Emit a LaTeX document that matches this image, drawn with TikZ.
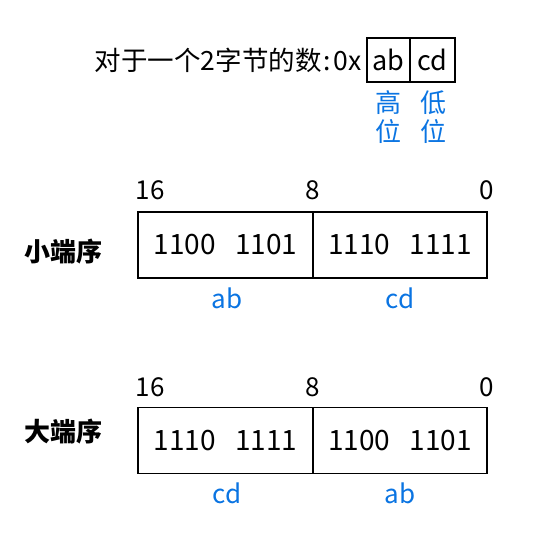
\documentclass[tikz,border=0pt]{standalone}
\usepackage{fontspec}
\setmainfont{Noto Sans CJK SC}
\definecolor{lblue}{RGB}{10,116,226}
\begin{document}
\begin{tikzpicture}[x=1pt,y=-1pt,
  cell/.style={draw,line width=1.5pt,minimum height=66pt,inner sep=0pt,font=\fontsize{28}{28}\selectfont},
  small/.style={draw,line width=1.5pt,minimum height=44pt,inner sep=0pt,font=\fontsize{27}{27}\selectfont},
  bitlbl/.style={font=\fontsize{26}{26}\selectfont,inner sep=0pt},
  bluelbl/.style={text=lblue,font=\fontsize{26}{26}\selectfont,inner sep=0pt},
  rowlbl/.style={font=\fontsize{26}{26}\selectfont\bfseries,inner sep=0pt}]
\useasboundingbox (0,0) rectangle (541,536);
% header
\node[small,minimum width=43pt] (hab) at (388.5,60) {ab};
\node[small,minimum width=45pt] (hcd) at (432.5,60) {cd};
\node[anchor=east,inner sep=0pt,font=\fontsize{26.5}{26.5}\selectfont] (title) at (362,60) {对于一个2字节的数\hspace{2pt}:\hspace{3pt}0x};
\node[bluelbl] (hi1) at (388,103) {高};
\node[bluelbl] (hi2) at (388,131) {位};
\node[bluelbl] (lo1) at (433,103) {低};
\node[bluelbl] (lo2) at (433,131) {位};
% little endian
\node[cell,minimum width=175pt] (l1) at (225.5,245) {1100\hspace{0.7em}1101};
\node[cell,minimum width=174pt] (l2) at (400,245) {1110\hspace{0.7em}1111};
\node[bitlbl] (l16) at (150,190) {16};
\node[bitlbl] (l8) at (313,190) {8};
\node[bitlbl] (l0) at (487,190) {0};
\node[rowlbl] (lname) at (63,252) {小端序};
\node[bluelbl] (lab) at (227,298) {ab};
\node[bluelbl] (lcd) at (400,298) {cd};
% big endian
\node[cell,minimum width=175pt] (b1) at (225.5,440.5) {1110\hspace{0.7em}1111};
\node[cell,minimum width=174pt] (b2) at (400,440.5) {1100\hspace{0.7em}1101};
\node[bitlbl] (b16) at (150,387) {16};
\node[bitlbl] (b8) at (313,387) {8};
\node[bitlbl] (b0) at (487,387) {0};
\node[rowlbl] (bname) at (63,432) {大端序};
\node[bluelbl] (bcd) at (227,493) {cd};
\node[bluelbl] (bab) at (400,493) {ab};
\end{tikzpicture}
\end{document}
